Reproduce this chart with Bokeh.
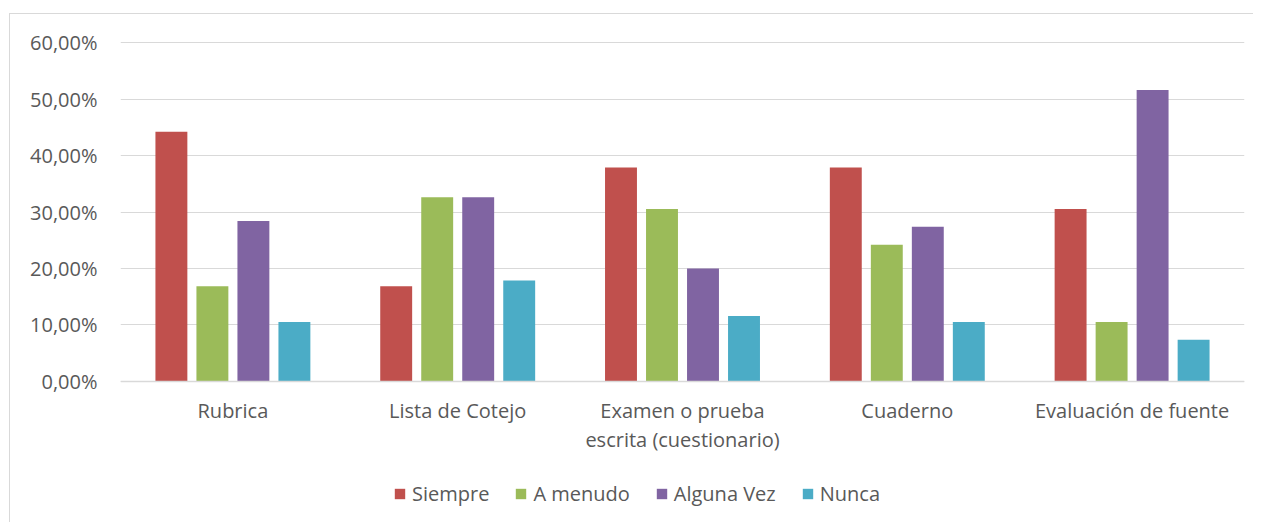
from bokeh.plotting import figure
from bokeh.models import ColumnDataSource, Legend, LegendItem, FixedTicker
from bokeh.transform import dodge
from bokeh.embed import file_html
from bokeh.resources import INLINE

categories = ["Rubrica", "Lista de Cotejo", "Examen o prueba\nescrita (cuestionario)", "Cuaderno", "Evaluación de fuente"]
siempre = [44.21, 16.84, 37.89, 37.89, 30.53]
a_menudo = [16.84, 32.63, 30.53, 24.21, 10.53]
alguna_vez = [28.42, 32.63, 20.00, 27.37, 51.58]
nunca = [10.53, 17.89, 11.58, 10.53, 7.37]
series_names = ["Siempre", "A menudo", "Alguna Vez", "Nunca"]
y_ticks = [0, 10, 20, 30, 40, 50, 60]
y_tick_labels = ["0,00%", "10,00%", "20,00%", "30,00%", "40,00%", "50,00%", "60,00%"]

colors = ["#c0504d", "#9bbb59", "#8064a2", "#4bacc6"]
FONT = "Open Sans"
TXT = "#595959"
GRID = "#d9d9d9"

src = ColumnDataSource(dict(cat=categories, s=siempre, a=a_menudo, g=alguna_vez, n=nunca))

# frame extends below the zero line so the legend can sit inside it
p = figure(x_range=categories, y_range=(-25.32, 60.36), frame_width=1124, frame_height=484,
           output_backend="svg", toolbar_location=None,
           min_border_left=110, min_border_right=9, min_border_top=26, min_border_bottom=0)
p.margin = (13, 0, 0, 9)
p.styles = {"border-left": "1px solid #d9d9d9", "border-top": "1px solid #d9d9d9"}
p.x_range.range_padding = 0
p.outline_line_color = None
p.background_fill_color = "white"
p.border_fill_color = "white"

offsets = [-0.2736, -0.0912, 0.0912, 0.2736]
keys = ["s", "a", "g", "n"]
items = []
for k, off, c, name in zip(keys, offsets, colors, series_names):
    r = p.vbar(x=dodge("cat", off, range=p.x_range), top=k, bottom=0, width=0.142,
               source=src, fill_color=c, line_color=None)
    items.append(LegendItem(label=name, renderers=[r]))

p.xgrid.grid_line_color = None
p.ygrid.grid_line_color = GRID
p.ygrid.grid_line_width = 1

p.yaxis.ticker = FixedTicker(ticks=y_ticks)
p.yaxis.major_label_overrides = {t: l for t, l in zip(y_ticks, y_tick_labels)}
p.yaxis.axis_line_color = None
p.yaxis.major_tick_line_color = None
p.yaxis.minor_tick_line_color = None
p.yaxis.major_tick_out = 0
p.yaxis.major_label_standoff = 23

p.xaxis.fixed_location = 0
p.xaxis.axis_line_color = GRID
p.xaxis.axis_line_width = 1.5
p.xaxis.major_tick_line_color = None
p.xaxis.major_tick_out = 0
p.xaxis.major_label_standoff = 16
p.xaxis.major_label_text_line_height = 1.04

for ax in (p.xaxis[0], p.yaxis[0]):
    ax.major_label_text_font = FONT
    ax.major_label_text_font_size = "20px"
    ax.major_label_text_color = TXT

legend = Legend(items=items, orientation="horizontal", location=(273, 17),
                label_text_font=FONT, label_text_font_size="20px", label_text_color=TXT,
                glyph_width=13, glyph_height=13, label_standoff=6, spacing=25,
                padding=0, margin=0, border_line_color=None, background_fill_alpha=0)
p.add_layout(legend, "center")

open("out.html", "w").write(file_html(p, INLINE))
